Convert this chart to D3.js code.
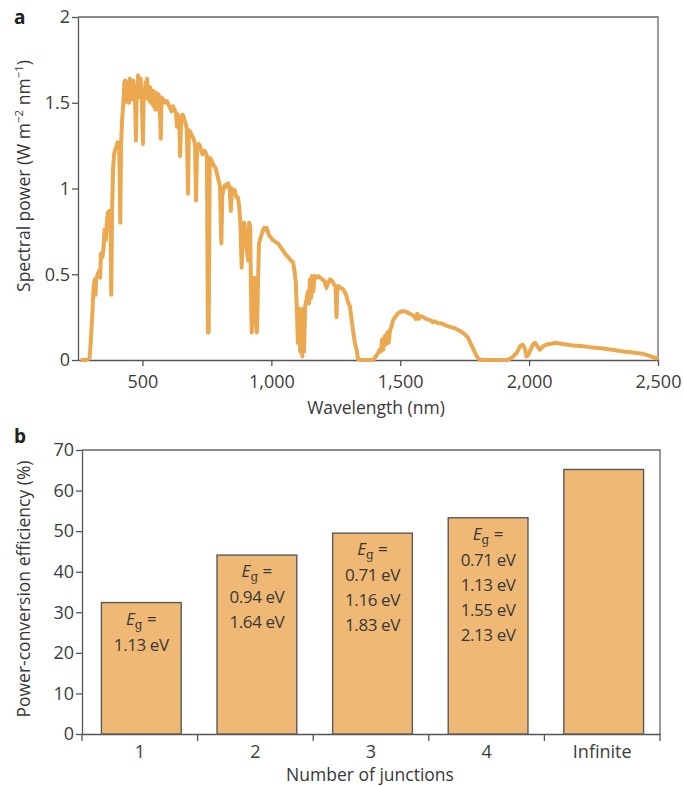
<!DOCTYPE html>
<html>
<head>
<meta charset="utf-8">
<script src="https://cdn.jsdelivr.net/npm/d3@7"></script>
<style>
    body { margin: 0; background: #fff; }
    svg text { font-family: "Open Sans", sans-serif; fill: #383838; }
    .axis path, .axis line { stroke: #555; stroke-width: 1.3; }
    .axis text { font-size: 18px; fill: #3c3c3c; }
    .frame { stroke: #666; stroke-width: 1.3; fill: none; }
</style>
</head>
<body>
<div class="chart"></div>
<script>

// panel a: solar spectrum (AM1.5)
const wavelengths = [
    260, 280, 295, 300, 305, 309, 312, 315, 318, 320, 326, 332, 336, 339, 345, 349, 353, 358, 362, 366,
    372, 376, 379, 382, 386, 390, 393, 398, 404, 410, 414, 417, 421, 425, 428, 430, 432, 433, 435, 437,
    439, 441, 443, 446, 448, 451, 453, 456, 458, 460, 462, 464, 467, 470, 475, 478, 480, 483, 486, 488,
    491, 493, 495, 497, 502, 505, 508, 512, 515, 518, 521, 524, 527, 530, 533, 536, 539, 541, 544, 547,
    550, 552, 555, 557, 560, 562, 567, 571, 574, 580, 588, 595, 601, 607, 612, 618, 624, 630, 634, 638,
    643, 646, 650, 656, 661, 667, 672, 677, 680, 686, 691, 696, 700, 704, 708, 712, 718, 723, 728, 733,
    740, 745, 750, 754, 757, 761, 766, 772, 778, 784, 790, 795, 801, 806, 810, 815, 820, 826, 832, 838,
    843, 847, 852, 858, 864, 870, 875, 880, 885, 890, 895, 900, 905, 910, 914, 918, 921, 924, 928, 933,
    937, 941, 944, 948, 952, 956, 960, 966, 972, 978, 982, 986, 990, 995, 1005, 1015, 1026, 1040, 1053, 1065,
    1076, 1084, 1090, 1095, 1100, 1103, 1108, 1112, 1116, 1120, 1124, 1127, 1131, 1136, 1142, 1146, 1150, 1154, 1158, 1163,
    1168, 1175, 1182, 1190, 1198, 1206, 1214, 1220, 1228, 1236, 1243, 1249, 1253, 1256, 1262, 1270, 1280, 1290, 1297, 1305,
    1311, 1317, 1324, 1331, 1336, 1350, 1395, 1405, 1414, 1420, 1425, 1430, 1434, 1440, 1444, 1450, 1455, 1460, 1465, 1472,
    1480, 1490, 1500, 1510, 1525, 1537, 1550, 1560, 1566, 1572, 1580, 1590, 1600, 1610, 1620, 1627, 1635, 1645, 1656, 1666,
    1680, 1690, 1700, 1712, 1725, 1738, 1750, 1763, 1772, 1782, 1792, 1802, 1812, 1915, 1930, 1945, 1955, 1965, 1975, 1983,
    1990, 1997, 2005, 2015, 2023, 2032, 2042, 2055, 2068, 2085, 2100, 2130, 2170, 2200, 2236, 2270, 2301, 2330, 2365, 2395,
    2423, 2440, 2456, 2475, 2495, 2500
];
const spectralPower = [
    0, 0, 0.01, 0.12, 0.25, 0.38, 0.44, 0.47, 0.38, 0.47, 0.50, 0.52, 0.48, 0.62, 0.60, 0.65, 0.76, 0.70, 0.80, 0.86,
    0.87, 0.86, 0.38, 0.86, 1.11, 1.20, 1.22, 1.24, 1.27, 1.26, 0.80, 1.25, 1.40, 1.48, 1.56, 1.62, 1.50, 1.63, 1.52, 1.60,
    1.51, 1.62, 1.54, 1.58, 1.50, 1.64, 1.55, 1.62, 1.53, 1.58, 1.52, 1.63, 1.55, 1.58, 1.28, 1.60, 1.54, 1.66, 1.55, 1.60,
    1.53, 1.64, 1.54, 1.56, 1.26, 1.58, 1.52, 1.62, 1.53, 1.64, 1.54, 1.58, 1.51, 1.59, 1.50, 1.55, 1.49, 1.57, 1.48, 1.52,
    1.46, 1.56, 1.47, 1.53, 1.46, 1.55, 1.51, 1.29, 1.53, 1.52, 1.50, 1.51, 1.49, 1.47, 1.45, 1.48, 1.46, 1.44, 1.36, 1.43,
    1.41, 1.19, 1.40, 1.43, 1.41, 1.38, 1.35, 0.97, 1.34, 1.33, 1.31, 1.30, 1.28, 1.26, 0.93, 1.25, 1.26, 1.25, 1.22, 1.20,
    1.22, 1.21, 1.19, 0.16, 0.16, 1.18, 1.17, 1.15, 1.13, 1.12, 1.08, 1.05, 1.01, 0.68, 0.96, 1.00, 1.02, 1.01, 1.03, 1.01,
    0.87, 1.00, 0.98, 0.99, 0.95, 0.95, 0.90, 0.80, 0.54, 0.78, 0.80, 0.72, 0.64, 0.58, 0.80, 0.78, 0.40, 0.16, 0.45, 0.48,
    0.40, 0.20, 0.16, 0.42, 0.68, 0.70, 0.72, 0.75, 0.77, 0.76, 0.77, 0.75, 0.73, 0.72, 0.70, 0.69, 0.68, 0.65, 0.62, 0.60,
    0.58, 0.57, 0.52, 0.45, 0.25, 0.10, 0.30, 0.05, 0.28, 0.02, 0.30, 0.05, 0.31, 0.35, 0.40, 0.33, 0.47, 0.36, 0.49, 0.40,
    0.49, 0.48, 0.49, 0.48, 0.47, 0.46, 0.42, 0.45, 0.47, 0.46, 0.44, 0.43, 0.25, 0.43, 0.43, 0.42, 0.41, 0.38, 0.34, 0.31,
    0.24, 0.17, 0.10, 0.06, 0.005, 0, 0, 0.02, 0.04, 0.06, 0.05, 0.12, 0.06, 0.14, 0.09, 0.16, 0.10, 0.17, 0.19, 0.23,
    0.25, 0.27, 0.28, 0.285, 0.28, 0.27, 0.26, 0.24, 0.27, 0.24, 0.255, 0.25, 0.24, 0.235, 0.23, 0.22, 0.225, 0.215, 0.215, 0.21,
    0.20, 0.195, 0.19, 0.185, 0.175, 0.165, 0.15, 0.13, 0.10, 0.07, 0.035, 0.01, 0, 0, 0.01, 0.03, 0.05, 0.08, 0.09, 0.07,
    0.02, 0.03, 0.06, 0.09, 0.10, 0.08, 0.06, 0.08, 0.09, 0.095, 0.10, 0.093, 0.085, 0.082, 0.075, 0.07, 0.064, 0.058, 0.05, 0.045,
    0.04, 0.036, 0.03, 0.02, 0.01, 0.005
];
const wavelengthTicks = [500, 1000, 1500, 2000, 2500];
const powerTicks = [0, 0.5, 1, 1.5, 2];

// panel b: efficiency limits
const junctions = ["1", "2", "3", "4", "Infinite"];
const efficiency = [32.4, 44.1, 49.5, 53.3, 65.2];
const bandGaps = [
    ["1.13 eV"],
    ["0.94 eV", "1.64 eV"],
    ["0.71 eV", "1.16 eV", "1.83 eV"],
    ["0.71 eV", "1.13 eV", "1.55 eV", "2.13 eV"],
    []
];
const efficiencyTicks = [0, 10, 20, 30, 40, 50, 60, 70];

const width = 684, height = 786;
const orange = "#eba84e";
const barFill = "#efb975";

const svg = d3.select(".chart").append("svg")
    .attr("width", width)
    .attr("height", height);

function panelLabel(text, x, y) {
    svg.append("text")
        .attr("x", x).attr("y", y)
        .style("font-size", "19px")
        .style("font-weight", "bold")
        .style("fill", "#222")
        .text(text);
}

function frame(x0, x1, y0, y1) {
    svg.append("path")
        .attr("class", "frame")
        .attr("d", `M${x0},${y0}H${x1}V${y1}`);
}

// ---- panel a ----
function drawSpectrum() {
    const left = 78, right = 658, top = 17, bottom = 360;

    const x = d3.scaleLinear().domain([250, 2500]).range([left, right]);
    const y = d3.scaleLinear().domain([0, 2]).range([bottom, top]);

    frame(left, right, top, bottom);

    svg.append("g")
        .attr("class", "axis")
        .attr("transform", `translate(0,${bottom})`)
        .call(d3.axisBottom(x).tickValues(wavelengthTicks)
            .tickFormat(d3.format(",")).tickSize(6).tickSizeOuter(0).tickPadding(9));

    svg.append("g")
        .attr("class", "axis")
        .attr("transform", `translate(${left},0)`)
        .call(d3.axisLeft(y).tickValues(powerTicks)
            .tickFormat(d => d).tickSize(6).tickSizeOuter(0).tickPadding(2));

    const points = wavelengths.map((w, i) => [w, spectralPower[i]]);

    svg.append("path")
        .datum(points)
        .attr("fill", "none")
        .attr("stroke", orange)
        .attr("stroke-width", 4)
        .attr("stroke-linejoin", "round")
        .attr("d", d3.line().x(d => x(d[0])).y(d => y(d[1])));

    svg.append("text")
        .attr("x", 376).attr("y", 414)
        .attr("text-anchor", "middle")
        .style("font-size", "17.5px")
        .text("Wavelength (nm)");

    const yt = svg.append("text")
        .attr("transform", "translate(30,176) rotate(-90)")
        .attr("text-anchor", "middle")
        .style("font-size", "17.5px");
    yt.append("tspan").text("Spectral power (W m");
    yt.append("tspan").attr("dy", -7).style("font-size", "11.5px").text("\u22122");
    yt.append("tspan").attr("dy", 7).text(" nm");
    yt.append("tspan").attr("dy", -7).style("font-size", "11.5px").text("\u22121");
    yt.append("tspan").attr("dy", 7).text(")");

    panelLabel("a", 14, 24);
}

// ---- panel b ----
function drawEfficiency() {
    const left = 82, right = 660, top = 450, bottom = 734;

    const x = d3.scaleBand().domain(junctions).range([left, right])
        .paddingInner(0.31).paddingOuter(0.155);
    const y = d3.scaleLinear().domain([0, 70]).range([bottom, top]);

    frame(left, right, top, bottom);

    svg.append("g")
        .attr("class", "axis")
        .attr("transform", `translate(${left},0)`)
        .call(d3.axisLeft(y).tickValues(efficiencyTicks)
            .tickSize(6).tickSizeOuter(0).tickPadding(2));

    const xAxis = svg.append("g")
        .attr("class", "axis")
        .attr("transform", `translate(0,${bottom})`)
        .call(d3.axisBottom(x).tickSize(0).tickSizeOuter(0).tickPadding(11));

    // ticks sit on the band boundaries
    xAxis.selectAll(".edge")
        .data(d3.range(junctions.length + 1))
        .enter().append("line")
        .attr("class", "edge")
        .attr("x1", i => left + i * x.step())
        .attr("x2", i => left + i * x.step())
        .attr("y1", 0).attr("y2", 7);

    svg.selectAll(".bar")
        .data(junctions)
        .enter().append("rect")
        .attr("class", "bar")
        .attr("x", d => x(d) + 1.5)
        .attr("y", (d, i) => y(efficiency[i]))
        .attr("width", x.bandwidth())
        .attr("height", (d, i) => bottom - y(efficiency[i]))
        .attr("fill", barFill)
        .attr("stroke", "#5a5a5a")
        .attr("stroke-width", 1.4);

    junctions.forEach((j, i) => {
        if (!bandGaps[i].length) return;
        const cx = x(j) + 1.5 + x.bandwidth() / 2;
        const top0 = y(efficiency[i]) + 22;

        const eg = svg.append("text")
            .attr("x", cx).attr("y", top0)
            .attr("text-anchor", "middle")
            .style("font-size", "17px");
        eg.append("tspan").style("font-style", "italic").text("E");
        eg.append("tspan").attr("dy", 4).style("font-size", "12px")
            .style("font-family", "'DejaVu Serif', serif").text("g");
        eg.append("tspan").attr("dy", -4).text(" =");

        bandGaps[i].forEach((g, k) => {
            svg.append("text")
                .attr("x", cx).attr("y", top0 + 26 + 25 * k)
                .attr("text-anchor", "middle")
                .style("font-size", "17px")
                .style("letter-spacing", "-0.4px")
                .text(g);
        });
    });

    svg.append("text")
        .attr("x", 370).attr("y", 781)
        .attr("text-anchor", "middle")
        .style("font-size", "17.5px")
        .text("Number of junctions");

    svg.append("text")
        .attr("transform", "translate(30,589) rotate(-90)")
        .attr("text-anchor", "middle")
        .style("font-size", "17.5px")
        .text("Power-conversion efficiency (%)");

    panelLabel("b", 14, 443);
}

drawSpectrum();
drawEfficiency();

</script>
</body>
</html>
